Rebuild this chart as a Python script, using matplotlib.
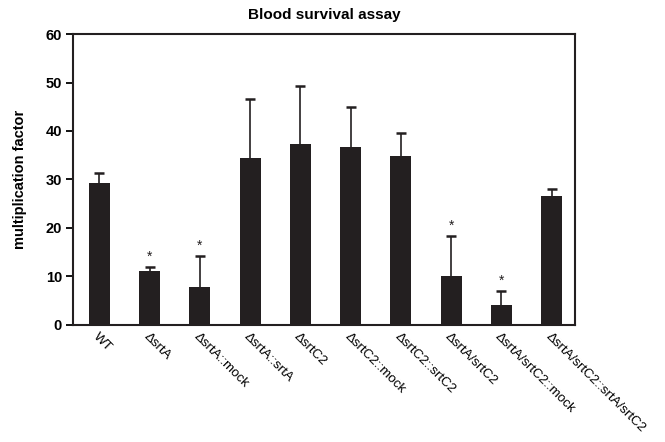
import matplotlib
matplotlib.use("Agg")
import matplotlib.pyplot as plt
import numpy as np

plt.rcParams['font.family'] = ['Liberation Sans', 'DejaVu Sans']

strains = ['WT', '\u0394srtA', '\u0394srtA::mock', '\u0394srtA::srtA', '\u0394srtC2',
           '\u0394srtC2::mock', '\u0394srtC2::srtC2', '\u0394srtA/srtC2',
           '\u0394srtA/srtC2::mock', '\u0394srtA/srtC2::srtA/srtC2']
means = [29.3, 11.2, 7.8, 34.5, 37.3, 36.7, 34.9, 10.0, 4.1, 26.6]
errors = [2.0, 0.8, 6.4, 12.0, 11.9, 8.2, 4.7, 8.3, 2.9, 1.4]
significant = [False, True, True, False, False, False, False, True, True, False]

fig = plt.figure(figsize=(6.65, 4.42), dpi=100)
ax = fig.add_axes([0.110, 0.265, 0.755, 0.658])

x = np.arange(len(strains))
ax.bar(x, means, width=0.42, color='#231f20', zorder=2)
eb = ax.errorbar(x, means, yerr=[np.zeros(len(errors)), errors], fmt='none',
                 ecolor='#231f20', elinewidth=1.2, capsize=3.5, capthick=1.8, zorder=1)
# only the upper caps are shown
eb[1][0].set_visible(False)

for xi, m, e, s in zip(x, means, errors, significant):
    if s:
        ax.text(xi, m + e + 0.6, '*', ha='center', va='bottom', fontsize=10, color='#231f20')

ax.set_xlim(-0.52, 9.47)
ax.set_ylim(0, 60)
ax.set_yticks([0, 10, 20, 30, 40, 50, 60])
ax.set_xticks(x)
ax.set_xticklabels(strains, rotation=-45, rotation_mode='anchor', ha='left', va='top',
                   fontsize=9.6)
ax.tick_params(axis='x', length=0, pad=4)
ax.tick_params(axis='y', length=5, width=1.3, labelsize=10.5, pad=3)
for lab in ax.get_yticklabels():
    lab.set_fontweight('bold')
for sp in ax.spines.values():
    sp.set_linewidth(1.5)
    sp.set_color('#231f20')

ax.set_ylabel('multiplication factor', fontsize=10.5, fontweight='bold', labelpad=13)
ax.set_title('Blood survival assay', fontsize=11, fontweight='bold', pad=11)

fig.savefig('out.png', dpi=100)
